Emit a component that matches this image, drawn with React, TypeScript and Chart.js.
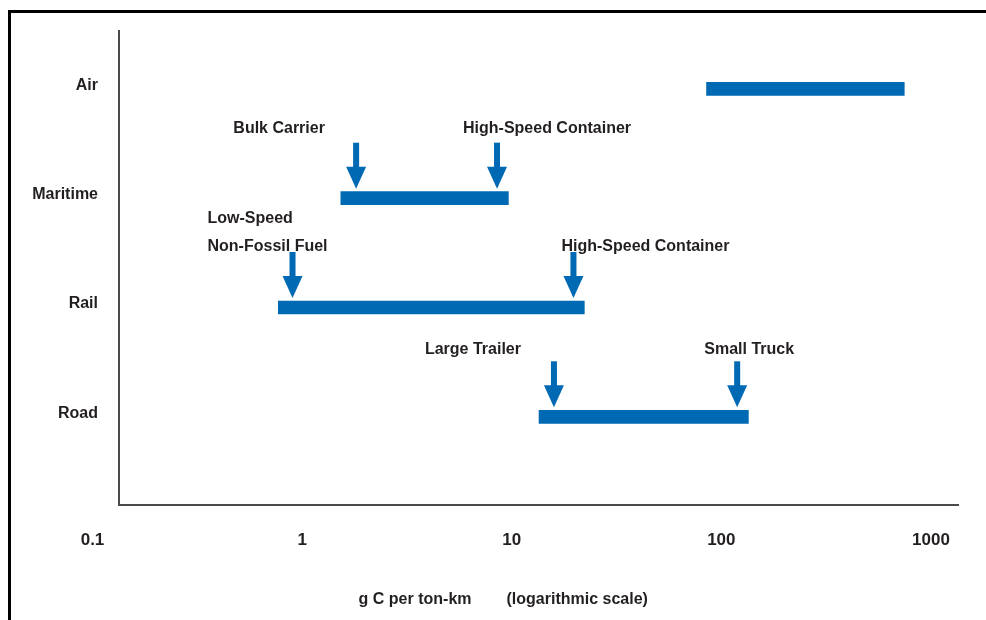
import React, { useEffect, useRef } from 'react';
import { Chart, registerables } from 'chart.js';

Chart.register(...registerables);

// ---- data ----
const modes = ['Air', 'Maritime', 'Rail', 'Road'];
const rangeLow = [85, 1.53, 0.77, 13.5];
const rangeHigh = [746, 9.64, 22.2, 134.6];

const arrowMode = [1, 1, 2, 2, 3, 3];
const arrowValue = [1.81, 8.51, 0.9, 19.7, 15.9, 119];
const arrowLabel = [
  ['Bulk Carrier'],
  ['High-Speed Container'],
  ['Low-Speed', 'Non-Fossil Fuel'],
  ['High-Speed Container'],
  ['Large Trailer'],
  ['Small Truck'],
];

const xTickValues = [0.1, 1, 10, 100, 1000];
const xTickLabels = ['0.1', '1', '10', '100', '1000'];
const axisTitleLeft = 'g C per ton-km';
const axisTitleRight = '(logarithmic scale)';

// ---- axis range ----
const X_MIN = 0.1338;
const X_MAX = 1346;
const Y_MIN = -0.5334;
const Y_MAX = 3.807;

// ---- styles ----
const BLUE = '#0069b4';
const TEXT = '#231f20';
const AXIS = '#4a4a4a';
const FONT = '"Liberation Sans", Arial, sans-serif';
const FONT_SIZE = 16;
const TICK_SIZE = 17;
const BAR = 13;

// label placement relative to each arrow (style only)
const labelLayout = [
  { dx: -77, align: 'center', dy: -65 },
  { dx: -34, align: 'left', dy: -65 },
  { dx: -85, align: 'left', dy: -84 },
  { dx: -12, align: 'left', dy: -56 },
  { dx: -81, align: 'center', dy: -63 },
  { dx: 12, align: 'center', dy: -63 },
];
const LINE_GAP = 28;

const overlay = {
  id: 'overlay',
  afterDatasetsDraw(chart: any) {
    const { ctx, chartArea } = chart;
    const xs = chart.scales.x;
    const ys = chart.scales.y;
    ctx.save();
    ctx.font = `bold ${FONT_SIZE}px ${FONT}`;
    ctx.textBaseline = 'alphabetic';

    arrowValue.forEach((v, i) => {
      const px = xs.getPixelForValue(v);
      const cy = ys.getPixelForValue(arrowMode[i]);
      const tip = cy - BAR / 2 - 3;
      ctx.fillStyle = BLUE;
      ctx.fillRect(px - 3, tip - 46, 6, 26);
      ctx.beginPath();
      ctx.moveTo(px - 10, tip - 22);
      ctx.lineTo(px + 10, tip - 22);
      ctx.lineTo(px, tip);
      ctx.closePath();
      ctx.fill();

      const lay = labelLayout[i];
      ctx.fillStyle = TEXT;
      ctx.textAlign = lay.align;
      arrowLabel[i].forEach((line, j) => {
        ctx.fillText(line, px + lay.dx, cy + lay.dy + j * LINE_GAP);
      });
    });

    // x tick labels
    ctx.font = `bold ${TICK_SIZE}px ${FONT}`;
    ctx.fillStyle = TEXT;
    ctx.textAlign = 'center';
    xTickValues.forEach((v, i) => {
      ctx.fillText(xTickLabels[i], xs.getPixelForValue(v), chartArea.bottom + 40);
    });

    // axis title
    ctx.font = `bold ${FONT_SIZE}px ${FONT}`;
    const mid = (chartArea.left + chartArea.right) / 2;
    ctx.textAlign = 'right';
    ctx.fillText(axisTitleLeft, mid - 67, chartArea.bottom + 99);
    ctx.textAlign = 'left';
    ctx.fillText(axisTitleRight, mid - 32, chartArea.bottom + 99);
    ctx.restore();
  },
};

export default function App() {
  const ref = useRef<HTMLCanvasElement | null>(null);

  useEffect(() => {
    if (!ref.current) return;
    const chart = new Chart(ref.current, {
      type: 'bar',
      data: {
        datasets: [
          {
            data: modes.map((_, i) => ({ x: [rangeLow[i], rangeHigh[i]], y: i })) as any,
            backgroundColor: BLUE,
            borderWidth: 0,
            barThickness: BAR,
          },
        ],
      },
      options: {
        indexAxis: 'y',
        responsive: false,
        animation: false,
        layout: { padding: { top: 29, right: 28, left: 0, bottom: 0 } },
        plugins: {
          legend: { display: false },
          tooltip: { enabled: false },
        },
        scales: {
          x: {
            type: 'logarithmic',
            min: X_MIN,
            max: X_MAX,
            ticks: { display: false },
            grid: { display: false, drawTicks: false },
            border: { display: true, color: AXIS, width: 2 },
            afterFit: (s: any) => {
              s.height = 115;
            },
          },
          y: {
            type: 'linear',
            reverse: true,
            offset: false,
            min: Y_MIN,
            max: Y_MAX,
            afterBuildTicks: (s: any) => {
              s.ticks = modes.map((_, i) => ({ value: i }));
            },
            ticks: {
              callback: (v: any) => modes[v as number] ?? '',
              padding: 21,
              labelOffset: -3.5,
              color: TEXT,
              font: { family: FONT, size: FONT_SIZE, weight: 'bold' },
            },
            grid: { display: false, drawTicks: false },
            border: { display: true, color: AXIS, width: 2 },
            afterFit: (s: any) => {
              s.width = 119;
            },
          },
        },
      } as any,
      plugins: [overlay],
    });
    return () => chart.destroy();
  }, []);

  return (
    <div style={{ position: 'absolute', left: 0, top: 0, width: 986, height: 620, background: '#fff', overflow: 'hidden' }}>
      <div
        style={{
          position: 'absolute',
          left: 8,
          top: 10,
          width: 978,
          height: 610,
          borderTop: '3px solid #000',
          borderLeft: '3px solid #000',
          boxSizing: 'border-box',
        }}
      />
      <canvas ref={ref} width={986} height={620} style={{ position: 'absolute', left: 0, top: 0 }} />
    </div>
  );
}
